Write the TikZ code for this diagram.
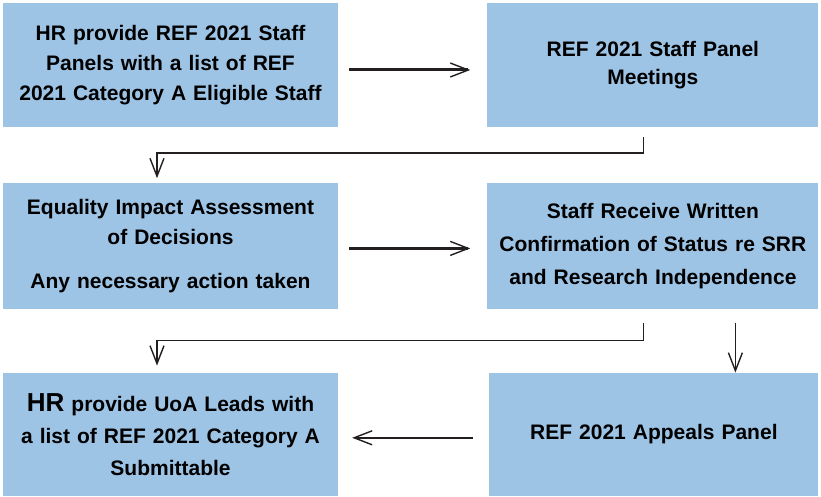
\documentclass[tikz,border=0pt]{standalone}
\usepackage{fontspec}
\setmainfont{Liberation Sans}
\usetikzlibrary{positioning,calc,arrows.meta}
\definecolor{boxblue}{RGB}{157,195,229}
\definecolor{inkline}{RGB}{35,31,32}

\begin{document}
\begin{tikzpicture}[x=1pt,y=1pt,
    stage/.style={fill=boxblue, minimum width=335pt, inner sep=0pt, align=center,
        text width=325pt, font=\fontsize{21}{30}\selectfont\bfseries},
    flow/.style={draw=inkline, line width=1.4pt,
        -{Straight Barb[length=18pt,width=14pt,line width=1.4pt]}},
    bold flow/.style={flow, line width=3pt}]
    \useasboundingbox (0,0) rectangle (821,-497);
    % top row
    \node[stage, minimum height=124pt] (hrlist) at (170.5,-65)
        {HR provide REF 2021 Staff\\Panels with a list of REF\\2021 Category A Eligible Staff};
    \node[stage, minimum height=124pt, minimum width=331pt, right=149pt of hrlist,
        font=\fontsize{21}{28}\selectfont\bfseries] (panel)
        {REF 2021 Staff Panel\\Meetings};
    % middle row
    \node[stage, minimum height=126pt, below=56pt of hrlist] (impact)
        {Equality Impact Assessment\\of Decisions\\[14pt]Any necessary action taken};
    \node[stage, minimum height=126pt, minimum width=331pt, right=149pt of impact,
        font=\fontsize{21}{33}\selectfont\bfseries] (confirm)
        {Staff Receive Written\\Confirmation of Status re SRR\\and Research Independence};
    % bottom row
    \node[stage, minimum height=123pt, below=63pt of impact,
        font=\fontsize{21}{32}\selectfont\bfseries] (uoa)
        {{\fontsize{26}{32}\selectfont HR} provide UoA Leads with\\a list of REF 2021 Category A\\Submittable};
    \node[stage, minimum height=123pt, minimum width=329pt, right=151pt of uoa] (appeals)
        {REF 2021 Appeals Panel};
    % connectors
    \draw[bold flow, shorten <=11pt, shorten >=17pt] ([yshift=-5pt]hrlist.east) -- ([yshift=-5pt]panel.west);
    \draw[flow] ([xshift=-9.5pt,yshift=-10pt]panel.south) -- ++(0,-16) -| ([xshift=-13.5pt,yshift=5pt]impact.north);
    \draw[bold flow, shorten <=11pt, shorten >=17pt] ([yshift=-2pt]impact.east) -- ([yshift=-2pt]confirm.west);
    \draw[flow] ([xshift=-9.5pt,yshift=-13pt]confirm.south) -- ++(0,-18) -| ([xshift=-13.5pt,yshift=7pt]uoa.north);
    \draw[flow] ([xshift=82.5pt,yshift=-13pt]confirm.south) -- ([xshift=81.5pt]appeals.north);
    \draw[flow, shorten <=16pt, shorten >=14pt] ([yshift=-3.5pt]appeals.west) -- ([yshift=-3.5pt]uoa.east);
\end{tikzpicture}
\end{document}
